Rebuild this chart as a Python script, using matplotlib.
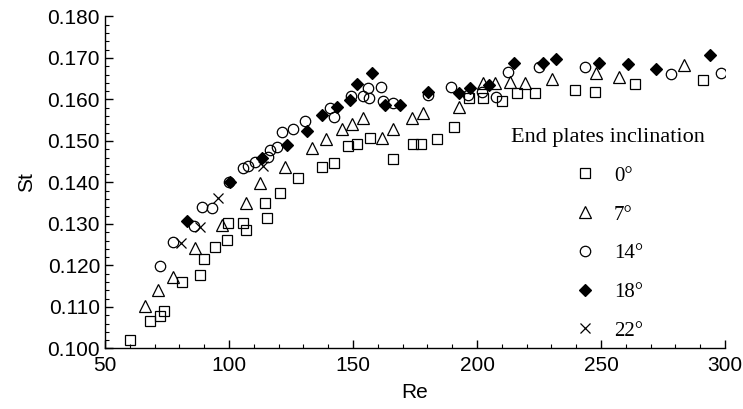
import matplotlib
matplotlib.use("Agg")
import matplotlib.pyplot as plt
from matplotlib.ticker import MultipleLocator, FormatStrFormatter

# 0 deg (squares)
re_0 = [60.1, 68.1, 72.2, 73.9, 80.9, 88.3, 89.9, 94.4, 99.0, 99.7, 105.8, 106.9,
        114.5, 115.2, 120.6, 128.0, 137.7, 142.5, 147.9, 151.5, 156.9, 166.0, 174.0,
        177.3, 183.7, 190.8, 196.9, 202.3, 209.9, 216.0, 223.4, 239.5, 247.6, 263.7, 291.3]
st_0 = [0.1020, 0.1065, 0.1078, 0.1091, 0.1160, 0.1177, 0.1215, 0.1244, 0.1262, 0.1302,
        0.1302, 0.1286, 0.1350, 0.1314, 0.1374, 0.1411, 0.1437, 0.1446, 0.1488, 0.1493,
        0.1508, 0.1456, 0.1493, 0.1493, 0.1504, 0.1533, 0.1603, 0.1603, 0.1596, 0.1615,
        0.1615, 0.1623, 0.1619, 0.1637, 0.1647]

# 7 deg (triangles)
re_7 = [66.1, 71.2, 77.6, 86.3, 97.0, 106.7, 112.5, 122.6, 133.3, 139.0, 145.4, 149.4,
        154.2, 161.5, 166.3, 173.6, 178.4, 192.6, 202.5, 207.3, 213.3, 219.4, 230.1,
        248.0, 257.4, 283.6]
st_7 = [0.1102, 0.1141, 0.1173, 0.1243, 0.1298, 0.1350, 0.1398, 0.1438, 0.1484, 0.1505,
        0.1528, 0.1542, 0.1555, 0.1507, 0.1528, 0.1556, 0.1567, 0.1583, 0.1639, 0.1639,
        0.1643, 0.1640, 0.1649, 0.1663, 0.1653, 0.1683]

# 14 deg (circles)
re_14 = [72.2, 77.3, 85.9, 89.3, 93.0, 100.2, 105.8, 107.5, 110.5, 115.8, 116.5, 119.2,
         121.2, 125.9, 130.6, 140.7, 142.3, 149.0, 153.9, 156.2, 156.6, 161.2, 162.0,
         166.3, 180.2, 189.5, 196.5, 201.9, 207.7, 212.6, 225.1, 243.5, 278.1, 298.2]
st_14 = [0.1199, 0.1257, 0.1294, 0.1340, 0.1338, 0.1400, 0.1434, 0.1440, 0.1450, 0.1462,
         0.1478, 0.1485, 0.1522, 0.1530, 0.1547, 0.1580, 0.1557, 0.1609, 0.1608, 0.1627,
         0.1603, 0.1629, 0.1597, 0.1591, 0.1611, 0.1629, 0.1611, 0.1619, 0.1607, 0.1667,
         0.1678, 0.1678, 0.1661, 0.1663]

# 18 deg (filled diamonds)
re_18 = [83.0, 100.4, 113.2, 123.4, 131.6, 137.3, 143.7, 148.8, 151.7, 157.5, 163.1,
         169.0, 180.2, 192.9, 197.2, 204.9, 214.9, 226.5, 231.9, 249.2, 261.0, 272.2, 293.9]
st_18 = [0.1308, 0.1400, 0.1460, 0.1490, 0.1525, 0.1563, 0.1583, 0.1598, 0.1637, 0.1665,
         0.1587, 0.1587, 0.1619, 0.1616, 0.1627, 0.1635, 0.1687, 0.1687, 0.1697, 0.1687,
         0.1686, 0.1673, 0.1707]

# 22 deg (crosses)
re_22 = [80.5, 88.3, 95.7, 113.8]
st_22 = [0.1255, 0.1292, 0.1362, 0.1440]

labels = ["0°", "7°", "14°", "18°", "22°"]

fig = plt.figure(figsize=(7.43, 4.09), dpi=100)
ax = fig.add_axes([0.1413, 0.148, 0.8345, 0.8117])

lw = 0.9
kw = dict(linestyle="none", markeredgewidth=lw, markeredgecolor="black")
ax.plot(re_0, st_0, marker="s", markersize=7, markerfacecolor="none", label=labels[0], **kw)
ax.plot(re_7, st_7, marker="^", markersize=8, markerfacecolor="none", label=labels[1], **kw)
ax.plot(re_14, st_14, marker="o", markersize=7.5, markerfacecolor="none", label=labels[2], **kw)
ax.plot(re_18, st_18, marker="D", markersize=6, markerfacecolor="black", label=labels[3], **kw)
ax.plot(re_22, st_22, marker="x", markersize=7.5, color="black", label=labels[4], **kw)

ax.set_xlim(50, 300)
ax.set_ylim(0.100, 0.180)
ax.xaxis.set_major_locator(MultipleLocator(50))
ax.xaxis.set_minor_locator(MultipleLocator(10))
ax.yaxis.set_major_locator(MultipleLocator(0.01))
ax.yaxis.set_minor_locator(MultipleLocator(0.002))
ax.yaxis.set_major_formatter(FormatStrFormatter("%.3f"))

for s in ["top", "right"]:
    ax.spines[s].set_visible(False)
for s in ["left", "bottom"]:
    ax.spines[s].set_linewidth(1.0)

sans = ["Liberation Sans", "DejaVu Sans"]
serif = ["Liberation Serif", "DejaVu Serif"]
ax.tick_params(which="major", direction="in", length=6, width=1.0, labelsize=15)
ax.tick_params(which="minor", direction="in", length=3, width=0.8)
ax.tick_params(axis="x", which="major", pad=5.5)
for t in ax.get_xticklabels() + ax.get_yticklabels():
    t.set_family(sans)

ax.set_xlabel("Re", fontsize=15, family=sans, labelpad=6)
ax.set_ylabel("St", fontsize=15, family=sans, labelpad=8)

leg = ax.legend(loc="upper left", bbox_to_anchor=(0.641, 0.69), frameon=False,
                title="End plates inclination",
                prop={"family": serif, "size": 15}, labelspacing=0.92,
                handletextpad=0.8, handlelength=1.2, borderaxespad=0)
leg.get_title().set_fontfamily(serif)
leg.get_title().set_fontsize(16)
leg._legend_box.sep = 14

fig.savefig("out.png", dpi=100)
